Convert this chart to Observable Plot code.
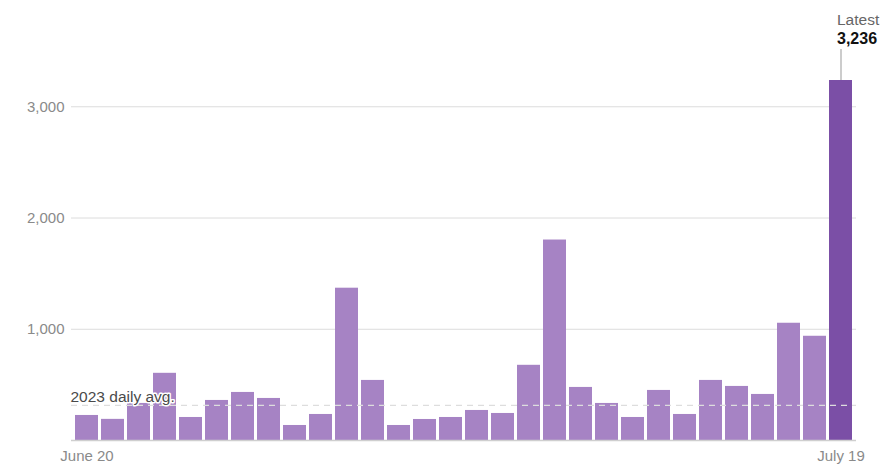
<!DOCTYPE html>
<html><head><meta charset="utf-8">
<script src="https://cdn.jsdelivr.net/npm/d3@7"></script>
<script src="https://cdn.jsdelivr.net/npm/@observablehq/plot@0.6"></script>
<style>
html,body{margin:0;padding:0;background:#fff;}
#chart svg{display:block;}
</style>
</head><body><div id="chart"></div>
<script>
const days = [
  "June 20","June 21","June 22","June 23","June 24","June 25","June 26","June 27","June 28","June 29","June 30",
  "July 1","July 2","July 3","July 4","July 5","July 6","July 7","July 8","July 9","July 10",
  "July 11","July 12","July 13","July 14","July 15","July 16","July 17","July 18","July 19"
];
const counts = [
  225, 190, 333, 604, 207, 360, 432, 378, 135, 234,
  1369, 540, 135, 189, 207, 270, 243, 676, 1802, 477,
  333, 207, 450, 234, 540, 486, 414, 1054, 937, 3236
];
const dailyAvg = 315;
const avgLabel = "2023 daily avg.";
const latestLabel = "Latest";
const yTicks = [1000, 2000, 3000];
const xTicks = ["June 20", "July 19"];

const data = days.map((d, i) => ({day: d, count: counts[i], latest: i === days.length - 1}));
const last = data[data.length - 1];
const font = "'Liberation Sans', Arial, sans-serif";

const chart = Plot.plot({
  width: 896,
  height: 476,
  marginTop: 80,
  marginBottom: 36,
  marginLeft: 71,
  marginRight: 40,
  style: {fontFamily: font, fontSize: "15px", background: "white", overflow: "visible"},
  x: {type: "band", domain: days, padding: 0.12, axis: null},
  y: {domain: [0, d3.max(counts)], axis: null},
  marks: [
    Plot.gridY(yTicks, {stroke: "#dcdcdc", strokeOpacity: 1, strokeWidth: 1}),
    Plot.axisY(yTicks, {tickSize: 0, tickPadding: 7, tickFormat: d3.format(","), fill: "#8a8a8a", fontSize: 15, label: null}),
    Plot.barY(data, {x: "day", y: "count", fill: d => d.latest ? "#7b4fa6" : "#a683c4"}),
    Plot.ruleY([0], {stroke: "#cfcfcf", strokeWidth: 1.5}),
    Plot.ruleY([dailyAvg], {stroke: "#dddddd", strokeDasharray: "6,5", strokeWidth: 1.2}),
    Plot.text([avgLabel], {frameAnchor: "left", y: dailyAvg, dx: -1, dy: -8, textAnchor: "start", fill: "#4a4a4a", stroke: "white", strokeWidth: 3, fontSize: 15.5, text: d => d}),
    Plot.axisX(xTicks, {tickSize: 0, tickPadding: 10, fill: "#8a8a8a", fontSize: 15, label: null}),
    Plot.ruleX([last], {x: "day", y1: "count", y2: "count", insetTop: -31, stroke: "#aaaaaa", strokeWidth: 1.2}),
    Plot.text([last], {x: "day", y: "count", text: () => latestLabel, textAnchor: "start", dx: -4, dy: -60, fill: "#666", fontSize: 15.5}),
    Plot.text([last], {x: "day", y: "count", text: d => d3.format(",")(d.count), textAnchor: "start", dx: -4, dy: -42, fill: "#111", fontWeight: "bold", fontSize: 16})
  ]
});
document.getElementById("chart").append(chart);
</script>
</body></html>
